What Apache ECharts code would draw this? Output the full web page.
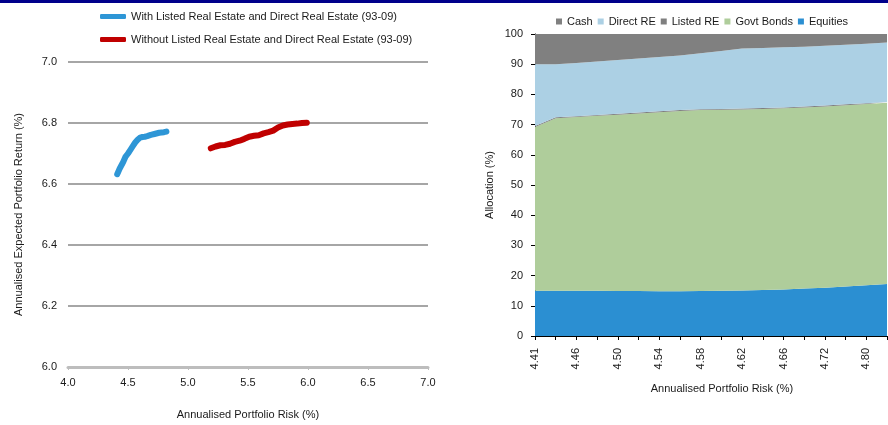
<!DOCTYPE html>
<html>
<head>
<meta charset="utf-8">
<script src="https://cdn.jsdelivr.net/npm/echarts@6/dist/echarts.min.js"></script>
<style>
  html, body { margin: 0; padding: 0; background: #fff; }
  #chart { width: 888px; height: 425px; }
</style>
</head>
<body>
<div id="chart"></div>
<script>
// Efficient frontiers: [risk %, expected return %]
const withRE = [
  [4.41, 6.632], [4.43, 6.650], [4.46, 6.672], [4.48, 6.690], [4.50, 6.700],
  [4.52, 6.712], [4.54, 6.724], [4.56, 6.736], [4.58, 6.745], [4.60, 6.752],
  [4.62, 6.754], [4.64, 6.755], [4.66, 6.757], [4.69, 6.761], [4.72, 6.764],
  [4.76, 6.768], [4.80, 6.770], [4.82, 6.772]
];
const withoutRE = [
  [5.19, 6.717], [5.23, 6.723], [5.27, 6.727], [5.31, 6.728], [5.35, 6.732],
  [5.39, 6.738], [5.43, 6.742], [5.47, 6.748], [5.51, 6.755], [5.55, 6.758],
  [5.59, 6.760], [5.63, 6.766], [5.67, 6.770], [5.71, 6.775], [5.75, 6.785],
  [5.79, 6.792], [5.83, 6.795], [5.87, 6.797], [5.91, 6.798], [5.95, 6.800],
  [5.99, 6.801]
];

// Allocation along the frontier (risk categories)
const riskCategories = ['4.41', '4.43', '4.46', '4.48', '4.50', '4.52', '4.54', '4.56', '4.58',
  '4.60', '4.62', '4.64', '4.66', '4.69', '4.72', '4.76', '4.80', '4.84'];
const equities  = [15.0, 15.0, 15.0, 15.0, 14.9, 14.9, 14.8, 14.8, 14.9, 15.0, 15.1, 15.2, 15.4, 15.7, 16.0, 16.4, 16.8, 17.2];
const govtBonds = [54.2, 57.1, 57.5, 57.9, 58.4, 58.8, 59.3, 59.7, 59.9, 59.9, 59.9, 60.0, 60.0, 60.0, 60.0, 60.0, 60.0, 60.0];
const listedRE  = [0.3, 0.3, 0.3, 0.3, 0.3, 0.3, 0.3, 0.3, 0.3, 0.3, 0.3, 0.3, 0.3, 0.3, 0.3, 0.3, 0.3, 0.3];
const directRE  = [20.5, 17.6, 17.6, 17.7, 17.8, 17.9, 18.0, 18.1, 18.5, 19.2, 19.9, 19.9, 19.9, 19.8, 19.8, 19.7, 19.7, 19.7];
const cash      = [10.0, 10.0, 9.6, 9.1, 8.6, 8.1, 7.6, 7.1, 6.4, 5.6, 4.8, 4.6, 4.4, 4.2, 3.9, 3.6, 3.2, 2.8];

const FONT = 'Liberation Sans, Arial, sans-serif';
const TXT = '#1a1a1a';

const chart = echarts.init(document.getElementById('chart'), null, { renderer: 'canvas' });

function areaSeries(name, data, color) {
  return {
    name, type: 'line', stack: 'alloc', xAxisIndex: 1, yAxisIndex: 1,
    data, symbol: 'none', smooth: false,
    lineStyle: { width: 0 }, itemStyle: { color },
    areaStyle: { color, opacity: 1 }
  };
}

chart.setOption({
  animation: false,
  textStyle: { fontFamily: FONT },
  graphic: [{
    type: 'rect', shape: { x: 0, y: 0, width: 888, height: 3 },
    style: { fill: '#00008b' }, z: 10
  }],
  legend: [{
    data: ['With Listed Real Estate and Direct Real Estate (93-09)',
           'Without Listed Real Estate and Direct Real Estate (93-09)'],
    orient: 'vertical', left: 95, top: 6,
    itemWidth: 26, itemHeight: 5, itemGap: 12, icon: 'roundRect',
    textStyle: { fontSize: 11, color: TXT, fontFamily: FONT }
  }, {
    data: ['Cash', 'Direct RE', 'Listed RE', 'Govt Bonds', 'Equities'],
    orient: 'horizontal', left: 551, top: 11,
    itemWidth: 6, itemHeight: 6, itemGap: 5, icon: 'rect',
    textStyle: { fontSize: 11, color: TXT, fontFamily: FONT }
  }],
  grid: [
    { left: 68, right: 460, top: 62, bottom: 56 },
    { left: 535, right: 1, top: 34, bottom: 89 }
  ],
  xAxis: [{
    gridIndex: 0, type: 'value', min: 4, max: 7, interval: 0.5,
    name: 'Annualised Portfolio Risk (%)', nameLocation: 'middle', nameGap: 42,
    nameTextStyle: { fontSize: 11, color: TXT },
    axisLine: { show: true, lineStyle: { color: '#bdbdbd', width: 3 } },
    axisTick: { show: true, length: 3, lineStyle: { color: '#bdbdbd' } },
    axisLabel: { fontSize: 11, color: TXT, margin: 10, formatter: v => v.toFixed(1) },
    splitLine: { show: false }
  }, {
    gridIndex: 1, type: 'category', data: riskCategories, boundaryGap: false,
    name: 'Annualised Portfolio Risk (%)', nameLocation: 'middle', nameGap: 47,
    nameTextStyle: { fontSize: 11, color: TXT, padding: [0, 0, 0, 22] },
    axisLine: { show: true, lineStyle: { color: '#000', width: 1 } },
    axisTick: { show: true, interval: 0, length: 4, lineStyle: { color: '#000' } },
    axisLabel: { fontSize: 11, color: TXT, rotate: 90, interval: 1, margin: 12 },
    splitLine: { show: false }
  }],
  yAxis: [{
    gridIndex: 0, type: 'value', min: 6, max: 7, interval: 0.2,
    name: 'Annualised Expected Portfolio Return (%)', nameLocation: 'middle', nameGap: 44,
    nameTextStyle: { fontSize: 11, color: TXT },
    axisLine: { show: false }, axisTick: { show: false },
    axisLabel: { fontSize: 11, color: TXT, margin: 11, formatter: v => v.toFixed(1) },
    splitLine: { show: true, lineStyle: { color: '#a6a6a6', width: 2 } }
  }, {
    gridIndex: 1, type: 'value', min: 0, max: 100, interval: 10,
    name: 'Allocation (%)', nameLocation: 'middle', nameGap: 40,
    nameMoveOverlap: false,
    nameTextStyle: { fontSize: 11, color: TXT },
    axisLine: { show: true, lineStyle: { color: '#000', width: 1 } },
    axisTick: { show: true, length: 4, lineStyle: { color: '#000' } },
    axisLabel: { fontSize: 11, color: TXT, margin: 12 },
    splitLine: { show: false }
  }],
  series: [
    {
      name: 'With Listed Real Estate and Direct Real Estate (93-09)',
      type: 'line', xAxisIndex: 0, yAxisIndex: 0, data: withRE,
      symbol: 'none', color: '#2e96d6',
      lineStyle: { width: 6, color: '#2e96d6', cap: 'round', join: 'round' }
    },
    {
      name: 'Without Listed Real Estate and Direct Real Estate (93-09)',
      type: 'line', xAxisIndex: 0, yAxisIndex: 0, data: withoutRE,
      symbol: 'none', color: '#c00000',
      lineStyle: { width: 6, color: '#c00000', cap: 'round', join: 'round' }
    },
    areaSeries('Equities', equities, '#2b8fd2'),
    areaSeries('Govt Bonds', govtBonds, '#afcd9b'),
    areaSeries('Listed RE', listedRE, '#7f7f7f'),
    areaSeries('Direct RE', directRE, '#acd0e4'),
    areaSeries('Cash', cash, '#808080')
  ]
});
</script>
</body>
</html>
